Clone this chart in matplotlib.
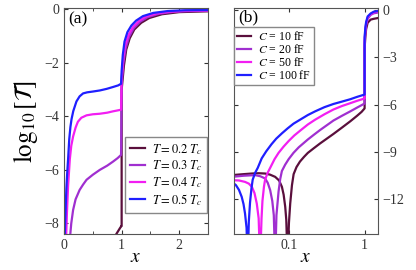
import matplotlib
matplotlib.use("Agg")
import matplotlib.pyplot as plt
import numpy as np

plt.rcParams['font.family'] = ['Liberation Serif', 'DejaVu Serif']
plt.rcParams['mathtext.fontset'] = 'stix'
plt.rcParams['xtick.direction'] = 'in'
plt.rcParams['ytick.direction'] = 'in'

colors = ['#5a0f3c', '#a02fd0', '#f21ef2', '#1f1fff']

# ---- panel (a): linear x ----
a_labels = [r'$T = 0.2\;T_c$', r'$T = 0.3\;T_c$', r'$T = 0.4\;T_c$', r'$T = 0.5\;T_c$']

a_x02 = [0.85, 0.97, 0.995, 1.0, 1.0, 1.04, 1.08, 1.14, 1.22, 1.34, 1.48, 1.7, 2.0, 2.5]
a_y02 = [-8.6, -8.18, -8.1, -8.1, -3.0, -2.1, -1.5, -1.08, -0.75, -0.5, -0.32, -0.18, -0.1, -0.07]

a_x03 = [0.1, 0.125, 0.157, 0.2, 0.27, 0.33, 0.39, 0.5, 0.62, 0.75, 0.85, 0.93, 0.99,
         1.0, 1.03, 1.07, 1.13, 1.21, 1.32, 1.45, 1.65, 1.9, 2.2, 2.5]
a_y03 = [-8.6, -8.0, -7.5, -7.1, -6.75, -6.55, -6.37, -6.18, -6.0, -5.84, -5.69, -5.56, -5.44,
         -2.8, -2.0, -1.45, -1.02, -0.7, -0.46, -0.29, -0.16, -0.09, -0.06, -0.05]

a_x04 = [0.035, 0.05, 0.07, 0.1, 0.125, 0.157, 0.2, 0.24, 0.3, 0.39, 0.5, 0.62, 0.75, 0.85, 0.99,
         1.0, 1.03, 1.06, 1.12, 1.2, 1.3, 1.42, 1.6, 1.85, 2.1, 2.5]
a_y04 = [-8.6, -7.6, -6.6, -5.6, -5.1, -4.75, -4.42, -4.2, -4.05, -3.96, -3.92, -3.9, -3.86, -3.81, -3.75,
         -2.6, -1.8, -1.35, -0.95, -0.65, -0.43, -0.27, -0.15, -0.08, -0.05, -0.04]

a_x05 = [0.01, 0.025, 0.04, 0.055, 0.07, 0.09, 0.11, 0.13, 0.16, 0.215, 0.27, 0.33, 0.4, 0.5, 0.62,
         0.74, 0.85, 0.94, 0.99, 1.0, 1.02, 1.05, 1.1, 1.17, 1.25, 1.37, 1.55, 1.8, 2.1, 2.5]
a_y05 = [-8.6, -7.6, -6.7, -6.1, -5.6, -4.85, -4.4, -4.1, -3.8, -3.44, -3.25, -3.14, -3.1, -3.07, -3.03,
         -2.97, -2.9, -2.84, -2.78, -2.3, -1.7, -1.2, -0.85, -0.6, -0.42, -0.25, -0.13, -0.06, -0.03, -0.02]

# ---- panel (b): log x (values given as log10 x) ----
b_labels = [r'$C$ = 10 fF', r'$C$ = 20 fF', r'$C$ = 50 fF', r'$C$ = 100 fF']

b_lx10 = [-1.75, -1.6, -1.49, -1.4, -1.315, -1.25, -1.182, -1.13, -1.093, -1.07, -1.049, -1.035, -1.018,
          -1.0, -0.983, -0.96, -0.938, -0.9, -0.854, -0.8, -0.75, -0.67, -0.588, -0.5, -0.412, -0.3,
          -0.19, -0.1, -0.04, 0.0, 0.0, 0.01, 0.02, 0.04, 0.08, 0.12, 0.176]
b_y10 = [-10.46, -10.4, -10.36, -10.34, -10.36, -10.43, -10.57, -10.8, -11.2, -11.7, -12.47, -13.3, -16,
         -13.5, -12.26, -11.1, -10.4, -9.95, -9.6, -9.3, -9.05, -8.75, -8.45, -8.15, -7.85, -7.45,
         -7.05, -6.7, -6.45, -6.23, -2.4, -1.7, -1.2, -0.8, -0.6, -0.55, -0.5]

b_lx20 = [-1.75, -1.6, -1.447, -1.38, -1.315, -1.28, -1.248, -1.22, -1.2, -1.182, -1.165, -1.15, -1.137,
          -1.115, -1.093, -1.05, -1.004, -0.94, -0.871, -0.75, -0.67, -0.588, -0.5, -0.412, -0.3,
          -0.19, -0.1, 0.0, 0.0, 0.01, 0.02, 0.04, 0.08, 0.12, 0.176]
b_y20 = [-10.57, -10.5, -10.46, -10.53, -10.67, -10.95, -11.41, -12.1, -13.0, -16, -13.0, -12.2, -11.5,
         -10.7, -10.2, -9.8, -9.45, -9.05, -8.7, -8.2, -7.9, -7.6, -7.3, -7.0, -6.7,
         -6.42, -6.18, -5.92, -2.1, -1.4, -0.95, -0.55, -0.3, -0.2, -0.15]

b_lx50 = [-1.75, -1.66, -1.58, -1.53, -1.49, -1.455, -1.425, -1.4, -1.381, -1.362, -1.35, -1.33, -1.315,
          -1.28, -1.248, -1.19, -1.137, -1.07, -1.004, -0.93, -0.854, -0.75, -0.655, -0.53, -0.412,
          -0.3, -0.19, -0.1, 0.0, 0.0, 0.01, 0.02, 0.04, 0.08, 0.12, 0.176]
b_y50 = [-10.78, -10.8, -10.89, -11.0, -11.2, -11.6, -12.26, -13.2, -16, -13.2, -12.1, -11.2, -10.75,
         -10.3, -10.0, -9.45, -9.05, -8.65, -8.3, -7.95, -7.65, -7.25, -6.95, -6.6, -6.3,
         -6.08, -5.9, -5.75, -5.6, -1.9, -1.25, -0.85, -0.47, -0.25, -0.15, -0.08]

b_lx100 = [-1.75, -1.7, -1.66, -1.624, -1.6, -1.58, -1.56, -1.545, -1.53, -1.514, -1.495, -1.479,
           -1.445, -1.412, -1.36, -1.3, -1.23, -1.168, -1.09, -1.018, -0.94, -0.854, -0.75, -0.655,
           -0.53, -0.412, -0.3, -0.19, -0.1, 0.0, 0.0, 0.01, 0.02, 0.04, 0.08, 0.12, 0.176]
b_y100 = [-10.9, -11.1, -11.4, -11.84, -12.3, -12.9, -13.8, -16, -13.4, -12.2, -11.3, -10.75,
          -10.3, -10.0, -9.4, -8.95, -8.5, -8.15, -7.8, -7.5, -7.2, -6.95, -6.65, -6.42,
          -6.15, -5.95, -5.8, -5.65, -5.5, -5.35, -1.7, -1.1, -0.75, -0.4, -0.21, -0.1, -0.05]

fig = plt.figure(figsize=(4.16, 2.70), dpi=100)
ax1 = fig.add_axes([0.154, 0.133, 0.346, 0.837])
ax2 = fig.add_axes([0.5625, 0.133, 0.346, 0.837])

for x, y, c, lab in zip([a_x02, a_x03, a_x04, a_x05], [a_y02, a_y03, a_y04, a_y05], colors, a_labels):
    ax1.plot(x, y, color=c, lw=1.6, label=lab)

ax1.set_xlim(0, 2.5)
ax1.set_ylim(-8.4, 0.05)
ax1.set_xticks([0, 1, 2])
ax1.set_xticks([0.5, 1.5], minor=True)
ax1.set_yticks([0, -2, -4, -6, -8])
ax1.tick_params(which='both', top=True, right=True, labelsize=10, colors='#333333', length=3)
ax1.tick_params(which='minor', length=2)
ax1.set_xlabel(r'$x$', fontsize=14, labelpad=-2)
ax1.set_ylabel(r'$\log_{10}[\mathcal{T}]$', fontsize=18, labelpad=3)
ax1.text(0.03, 0.985, '(a)', transform=ax1.transAxes, fontsize=12.5, va='top', ha='left')
ax1.legend(loc='lower right', bbox_to_anchor=(0.995, 0.095), borderaxespad=0, fontsize=9,
           fancybox=False, edgecolor='#888888', framealpha=1, handlelength=1.2,
           labelspacing=0.15, borderpad=0.4, handletextpad=0.6)

for lx, y, c, lab in zip([b_lx10, b_lx20, b_lx50, b_lx100], [b_y10, b_y20, b_y50, b_y100], colors, b_labels):
    ax2.plot(10 ** np.array(lx), y, color=c, lw=1.6, label=lab)

ax2.set_xscale('log')
ax2.set_xlim(0.0188, 1.5)
ax2.set_ylim(-14.2, 0.13)
ax2.set_xticks([0.1, 1])
ax2.set_xticklabels(['0.1', '1'])
ax2.xaxis.set_minor_locator(matplotlib.ticker.NullLocator())
ax2.set_yticks([0, -3, -6, -9, -12])
ax2.tick_params(which='both', top=True, left=True, right=True, labelleft=False, labelright=True,
                labelsize=10, colors='#333333', length=3)
ax2.set_xlabel(r'$x$', fontsize=14, labelpad=-2)
ax2.text(0.03, 0.995, '(b)', transform=ax2.transAxes, fontsize=12.5, va='top', ha='left')
ax2.legend(loc='upper left', bbox_to_anchor=(0.0, 0.916), borderaxespad=0, fontsize=8.5,
           fancybox=False, edgecolor='#888888', framealpha=1, handlelength=1.2,
           labelspacing=0.0, borderpad=0.25, handletextpad=0.6)

for ax in (ax1, ax2):
    for s in ax.spines.values():
        s.set_color('#555555')

fig.savefig('out.png', dpi=100)
